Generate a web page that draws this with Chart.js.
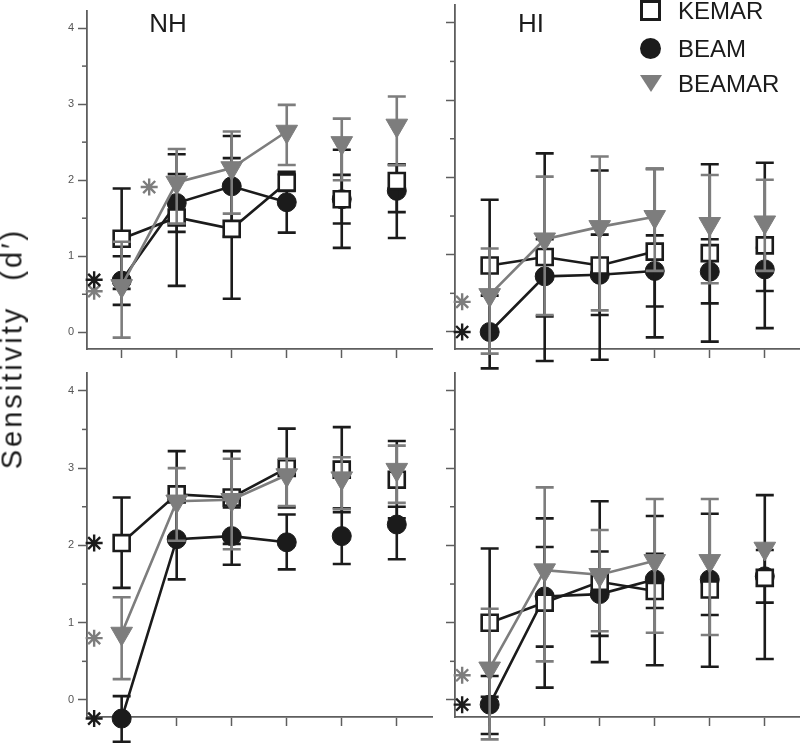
<!DOCTYPE html>
<html>
<head>
<meta charset="utf-8">
<script src="https://cdn.jsdelivr.net/npm/chart.js@4.4.1/dist/chart.umd.min.js"></script>
<style>
    body { margin: 0; background: #fff; }
    #wrap { position: relative; width: 800px; height: 745px; overflow: hidden; font-family: 'Liberation Sans', Arial, sans-serif; color: #1b1b1b; }
    #wrap canvas { position: absolute; left: 0; top: 0; }
    .txt { position: absolute; white-space: pre; line-height: 1; }
    .title { font-size: 26px; width: 100px; text-align: center; top: 10px; }
    .leg { font-size: 24px; left: 678px; }
    #ylabel { position: absolute; left: -138px; top: 334px; width: 300px; height: 29px; text-align: center; font-size: 29px; letter-spacing: 3px; word-spacing: 14px; transform: rotate(-90deg); }
</style>
</head>
<body>
<div id="wrap">
    <canvas id="nhTop" width="800" height="745"></canvas>
    <canvas id="hiTop" width="800" height="745"></canvas>
    <canvas id="nhBottom" width="800" height="745"></canvas>
    <canvas id="hiBottom" width="800" height="745"></canvas>

    <div class="txt title" style="left:118px">NH</div>
    <div class="txt title" style="left:481px">HI</div>
    <div id="ylabel" class="txt">Sensitivity (d′)</div>

    <div style="position:absolute;left:640px;top:0px;width:21px;height:21px;box-sizing:border-box;border:3px solid #1b1b1b;background:#fff"></div>
    <div style="position:absolute;left:640px;top:38px;width:21px;height:21px;border-radius:50%;background:#1b1b1b"></div>
    <div style="position:absolute;left:640px;top:75px;width:0;height:0;border-left:11px solid transparent;border-right:11px solid transparent;border-top:17px solid #7d7d7d"></div>
    <div class="txt leg" style="top:-1px">KEMAR</div>
    <div class="txt leg" style="top:37px">BEAM</div>
    <div class="txt leg" style="top:72px">BEAMAR</div>
</div>
<script>
const categories = [1, 2, 3, 4, 5, 6]
const yTickValues = [0, 1, 2, 3, 4]
const yMinorValues = [0.5, 1.5, 2.5, 3.5]

// NH, top row
const nhTopKemar = [1.23, 1.51, 1.36, 1.97, 1.75, 1.99]
const nhTopKemarLo = [0.57, 0.61, 0.44, 1.86, 1.11, 1.58]
const nhTopKemarHi = [1.89, 2.34, 2.29, 2.08, 2.40, 2.21]
const nhTopBeam = [0.68, 1.70, 1.92, 1.71, 1.75, 1.86]
const nhTopBeamLo = [0.36, 1.32, 1.26, 1.31, 1.43, 1.24]
const nhTopBeamHi = [1.00, 2.08, 2.58, 2.11, 2.07, 2.20]
const nhTopBeamar = [0.61, 1.97, 2.16, 2.64, 2.49, 2.72]
const nhTopBeamarLo = [-0.07, 1.43, 1.56, 2.20, 2.00, 2.20]
const nhTopBeamarHi = [1.19, 2.41, 2.64, 2.99, 2.81, 3.10]
const nhTopStarBlackX = [0.5]
const nhTopStarBlackY = [0.69]
const nhTopStarGrayX = [0.5, 1.5]
const nhTopStarGrayY = [0.54, 1.91]

// HI, top row
const hiTopKemar = [0.86, 0.97, 0.86, 1.04, 1.02, 1.12]
const hiTopKemarLo = [0.01, -0.375, -0.36, -0.07, -0.125, 0.05]
const hiTopKemarHi = [1.71, 2.31, 2.09, 2.11, 2.17, 2.19]
const hiTopBeam = [0.00, 0.72, 0.74, 0.79, 0.78, 0.81]
const hiTopBeamLo = [-0.47, 0.20, 0.22, 0.33, 0.37, 0.53]
const hiTopBeamHi = [0.47, 1.20, 1.26, 1.25, 1.20, 1.09]
const hiTopBeamar = [0.48, 1.20, 1.36, 1.49, 1.40, 1.42]
const hiTopBeamarLo = [-0.28, 0.22, 0.28, 0.79, 0.63, 0.79]
const hiTopBeamarHi = [1.08, 2.01, 2.27, 2.11, 2.03, 1.97]
const hiTopStarBlackX = [0.5]
const hiTopStarBlackY = [0.00]
const hiTopStarGrayX = [0.5]
const hiTopStarGrayY = [0.39]

// NH, bottom row
const nhBottomKemar = [2.03, 2.66, 2.62, 3.00, 2.98, 2.85]
const nhBottomKemarLo = [1.45, 2.10, 2.02, 2.49, 2.43, 2.35]
const nhBottomKemarHi = [2.62, 3.22, 3.22, 3.51, 3.53, 3.35]
const nhBottomBeam = [-0.24, 2.08, 2.12, 2.04, 2.12, 2.27]
const nhBottomBeamLo = [-0.54, 1.56, 1.75, 1.69, 1.76, 1.82]
const nhBottomBeamHi = [0.05, 2.60, 2.49, 2.40, 2.48, 2.50]
const nhBottomBeamar = [0.86, 2.57, 2.59, 2.91, 2.87, 2.98]
const nhBottomBeamarLo = [0.27, 2.06, 1.95, 2.51, 2.47, 2.55]
const nhBottomBeamarHi = [1.33, 3.00, 3.12, 3.12, 3.14, 3.29]
const nhBottomStarBlackX = [0.5, 0.5]
const nhBottomStarBlackY = [2.03, -0.24]
const nhBottomStarGrayX = [0.5]
const nhBottomStarGrayY = [0.80]

// HI, bottom row
const hiBottomKemar = [1.00, 1.26, 1.53, 1.41, 1.43, 1.58]
const hiBottomKemarLo = [0.04, 0.16, 0.49, 0.45, 0.43, 0.53]
const hiBottomKemarHi = [1.96, 2.35, 2.57, 2.38, 2.41, 2.65]
const hiBottomBeam = [-0.06, 1.34, 1.37, 1.56, 1.56, 1.60]
const hiBottomBeamLo = [-0.44, 0.69, 0.83, 1.19, 1.10, 1.26]
const hiBottomBeamHi = [0.31, 1.98, 1.92, 1.89, 1.86, 1.94]
const hiBottomBeamar = [0.41, 1.68, 1.62, 1.80, 1.80, 1.96]
const hiBottomBeamarLo = [-0.51, 0.50, 0.89, 0.87, 0.84, null]
const hiBottomBeamarHi = [1.18, 2.75, 2.20, 2.60, 2.60, null]
const hiBottomStarBlackX = [0.5]
const hiBottomStarBlackY = [-0.06]
const hiBottomStarGrayX = [0.5]
const hiBottomStarGrayY = [0.32]

const black = '#1b1b1b'
const gray = '#7d7d7d'
const axisColor = '#5e5e5e'
const yAxisWidth = 30

// drawing order: BEAM first, then KEMAR, BEAMAR on top
const kemarStyle = { color: black, fill: '#fff', shape: 'rect', radius: 11.3, rotation: 0, pointBorder: 2.6, order: 2 }
const beamStyle = { color: black, fill: black, shape: 'circle', radius: 9.5, rotation: 0, pointBorder: 1, order: 3 }
const beamarStyle = { color: gray, fill: gray, shape: 'triangle', radius: 12.5, rotation: 180, pointBorder: 1, order: 1 }

const pts = (xs, ys) => xs.map((x, i) => ({ x: x, y: ys[i] }))

const seriesDataset = (label, values, lo, hi, style) => ({
    label: label,
    data: pts(categories, values),
    errLo: lo,
    errHi: hi,
    errColor: style.color,
    borderColor: style.color,
    backgroundColor: style.fill,
    borderWidth: 2.6,
    tension: 0,
    pointStyle: style.shape,
    pointRadius: style.radius,
    pointRotation: style.rotation,
    pointBorderWidth: style.pointBorder,
    pointBackgroundColor: style.fill,
    pointBorderColor: style.color,
    order: style.order,
    clip: false,
    // only the first four conditions are joined
    segment: { borderColor: ctx => ctx.p0DataIndex >= 3 ? 'rgba(0,0,0,0)' : style.color },
})

const starDataset = (xs, ys, color) => ({
    label: 'reference',
    data: pts(xs, ys),
    showLine: false,
    pointStyle: 'star',
    pointRadius: 8.5,
    pointBorderWidth: 2.4,
    pointBorderColor: color,
    borderColor: color,
    order: 4,
    clip: false,
})

const errorBarPlugin = {
    id: 'errorBars',
    beforeDatasetDraw (chart, args) {
        const ds = chart.data.datasets[args.index]
        if (!ds.errLo) {
            return
        }
        const ctx = chart.ctx
        const xs = chart.scales.x
        const ys = chart.scales.y
        ctx.save()
        ctx.strokeStyle = ds.errColor
        ctx.lineWidth = 2.6
        ds.errLo.forEach((lo, i) => {
            const hi = ds.errHi[i]
            if (lo === null || hi === null) {
                return
            }
            const x = xs.getPixelForValue(ds.data[i].x)
            const y1 = ys.getPixelForValue(lo)
            const y2 = ys.getPixelForValue(hi)
            ctx.beginPath()
            ctx.moveTo(x, y1)
            ctx.lineTo(x, y2)
            ctx.moveTo(x - 9, y1)
            ctx.lineTo(x + 9, y1)
            ctx.moveTo(x - 9, y2)
            ctx.lineTo(x + 9, y2)
            ctx.stroke()
        })
        ctx.restore()
    },
}

const minorTickPlugin = {
    id: 'minorTicks',
    afterDraw (chart) {
        const ys = chart.scales.y
        const ctx = chart.ctx
        ctx.save()
        ctx.strokeStyle = axisColor
        ctx.lineWidth = 1.5
        yMinorValues.forEach(v => {
            const y = ys.getPixelForValue(v)
            ctx.beginPath()
            ctx.moveTo(ys.right - 5, y)
            ctx.lineTo(ys.right, y)
            ctx.stroke()
        })
        ctx.restore()
    },
}

// axisLeft is where the y axis line sits on the page
const makePanel = (id, axisLeft, top, right, bottom, showLabels, datasets) => new Chart(document.getElementById(id), {
    type: 'line',
    data: { datasets: datasets },
    options: {
        responsive: false,
        animation: false,
        devicePixelRatio: 1,
        layout: {
            padding: { left: axisLeft - yAxisWidth, top: top, right: right, bottom: bottom },
            autoPadding: false,
        },
        plugins: {
            legend: { display: false },
            tooltip: { enabled: false },
        },
        scales: {
            x: {
                type: 'linear',
                min: 0.37,
                max: 6.64,
                afterBuildTicks: s => { s.ticks = categories.map(v => ({ value: v })) },
                afterFit: s => { s.height = 0 },
                ticks: { display: false },
                grid: { drawOnChartArea: false, tickLength: 9, tickColor: axisColor, tickWidth: 1.5 },
                border: { color: axisColor, width: 1.8 },
            },
            y: {
                type: 'linear',
                min: -0.22,
                max: 4.23,
                afterBuildTicks: s => { s.ticks = yTickValues.map(v => ({ value: v })) },
                afterFit: s => { s.width = yAxisWidth },
                ticks: {
                    display: showLabels,
                    color: '#555',
                    padding: 4,
                    font: { size: 11, family: 'Liberation Sans' },
                },
                grid: { drawOnChartArea: false, tickLength: 9, tickColor: axisColor, tickWidth: 1.5 },
                border: { color: axisColor, width: 1.8 },
            },
        },
    },
    plugins: [errorBarPlugin, minorTickPlugin],
})

makePanel('nhTop', 87, 5, 368, 396, true, [
    seriesDataset('KEMAR', nhTopKemar, nhTopKemarLo, nhTopKemarHi, kemarStyle),
    seriesDataset('BEAM', nhTopBeam, nhTopBeamLo, nhTopBeamHi, beamStyle),
    seriesDataset('BEAMAR', nhTopBeamar, nhTopBeamarLo, nhTopBeamarHi, beamarStyle),
    starDataset(nhTopStarBlackX, nhTopStarBlackY, black),
    starDataset(nhTopStarGrayX, nhTopStarGrayY, gray),
])

makePanel('hiTop', 455, 5, 0, 396, false, [
    seriesDataset('KEMAR', hiTopKemar, hiTopKemarLo, hiTopKemarHi, kemarStyle),
    seriesDataset('BEAM', hiTopBeam, hiTopBeamLo, hiTopBeamHi, beamStyle),
    seriesDataset('BEAMAR', hiTopBeamar, hiTopBeamarLo, hiTopBeamarHi, beamarStyle),
    starDataset(hiTopStarBlackX, hiTopStarBlackY, black),
    starDataset(hiTopStarGrayX, hiTopStarGrayY, gray),
])

makePanel('nhBottom', 87, 373, 368, 28, true, [
    seriesDataset('KEMAR', nhBottomKemar, nhBottomKemarLo, nhBottomKemarHi, kemarStyle),
    seriesDataset('BEAM', nhBottomBeam, nhBottomBeamLo, nhBottomBeamHi, beamStyle),
    seriesDataset('BEAMAR', nhBottomBeamar, nhBottomBeamarLo, nhBottomBeamarHi, beamarStyle),
    starDataset(nhBottomStarBlackX, nhBottomStarBlackY, black),
    starDataset(nhBottomStarGrayX, nhBottomStarGrayY, gray),
])

makePanel('hiBottom', 455, 373, 0, 28, false, [
    seriesDataset('KEMAR', hiBottomKemar, hiBottomKemarLo, hiBottomKemarHi, kemarStyle),
    seriesDataset('BEAM', hiBottomBeam, hiBottomBeamLo, hiBottomBeamHi, beamStyle),
    seriesDataset('BEAMAR', hiBottomBeamar, hiBottomBeamarLo, hiBottomBeamarHi, beamarStyle),
    starDataset(hiBottomStarBlackX, hiBottomStarBlackY, black),
    starDataset(hiBottomStarGrayX, hiBottomStarGrayY, gray),
])
</script>
</body>
</html>
